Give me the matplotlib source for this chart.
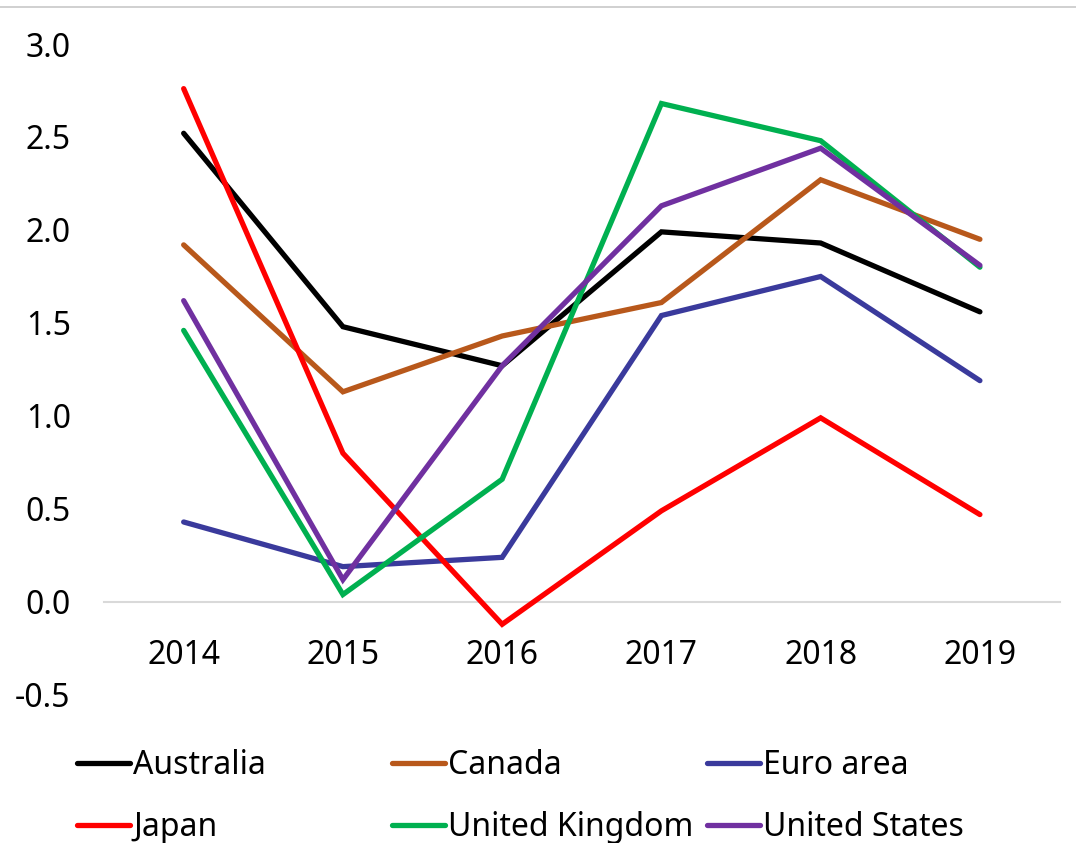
import numpy as np
import matplotlib
matplotlib.use("Agg")
import matplotlib.pyplot as plt
from matplotlib.lines import Line2D

plt.rcParams['font.family'] = ['Noto Sans', 'DejaVu Sans']

years = ['2014', '2015', '2016', '2017', '2018', '2019']
australia = [2.52, 1.48, 1.27, 1.99, 1.93, 1.56]
canada = [1.92, 1.13, 1.43, 1.61, 2.27, 1.95]
euro_area = [0.43, 0.19, 0.24, 1.54, 1.75, 1.19]
japan = [2.76, 0.80, -0.12, 0.49, 0.99, 0.47]
united_kingdom = [1.46, 0.04, 0.66, 2.68, 2.48, 1.80]
united_states = [1.62, 0.12, 1.27, 2.13, 2.44, 1.81]

names = ['Australia', 'Canada', 'Euro area', 'Japan', 'United Kingdom', 'United States']
series = [australia, canada, euro_area, japan, united_kingdom, united_states]
colors = ['#000000', '#B8581B', '#3A3A9C', '#FF0000', '#00B050', '#7030A0']

fig = plt.figure(figsize=(10.76, 8.43), dpi=100)
ax = fig.add_axes([0.0967, 0.1756, 0.888, 0.7722])

x = np.arange(len(years))
for vals, c in zip(series, colors):
    ax.plot(x, vals, color=c, lw=3.8, solid_capstyle='round', solid_joinstyle='miter')

ax.set_xlim(-0.5, 5.5)
ax.set_ylim(-0.5, 3.0)
ax.set_yticks(np.arange(-0.5, 3.01, 0.5))
ax.set_yticklabels(['%.1f' % v for v in np.arange(-0.5, 3.01, 0.5)])
ax.set_xticks(x)
ax.set_xticklabels(years)
for s in ['top', 'right', 'left']:
    ax.spines[s].set_visible(False)
ax.spines['bottom'].set_position(('data', 0))
ax.spines['bottom'].set_color('#D9D9D9')
ax.spines['bottom'].set_linewidth(1.5)
ax.spines['bottom'].set_zorder(0)
ax.tick_params(axis='both', length=0, labelsize=23, colors='#000000')
ax.tick_params(axis='y', pad=24)
ax.tick_params(axis='x', pad=27)

# thin border line at the top
fig.add_artist(Line2D([0, 1], [1 - 7 / 843, 1 - 7 / 843], color='#C8C8C8', lw=1.2))

# legend, 3 columns x 2 rows
W, H = 1076, 843
for i, (name, c) in enumerate(zip(names, colors)):
    col, row = i % 3, i // 3
    x0 = 77 + col * 315
    y0 = 763 + row * 62
    fig.add_artist(Line2D([x0 / W, (x0 + 53) / W], [1 - y0 / H, 1 - y0 / H],
                          color=c, lw=3.8, solid_capstyle='round'))
    fig.text((x0 + 56) / W, 1 - (y0 + 2) / H, name, fontsize=23, va='center', ha='left')

fig.savefig('out.png', dpi=100)
